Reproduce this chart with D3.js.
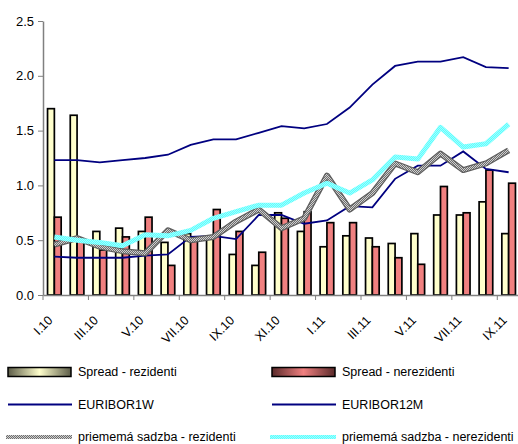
<!DOCTYPE html>
<html>
<head>
<meta charset="utf-8">
<script src="https://cdn.jsdelivr.net/npm/d3@7"></script>
<style>
  body { margin: 0; background: #fff; }
  svg { display: block; font-family: "Liberation Sans", Arial, sans-serif; }
</style>
</head>
<body>
<div id="chart"></div>
<script>
// months Jan 2010 - Sep 2011
const months = ["I.10","II.10","III.10","IV.10","V.10","VI.10","VII.10","VIII.10","IX.10","X.10","XI.10","XII.10",
                "I.11","II.11","III.11","IV.11","V.11","VI.11","VII.11","VIII.11","IX.11"];

const spreadRez    = [1.70,1.64,0.58,0.61,0.58,0.48,0.56,0.52,0.37,0.27,0.75,0.58,0.44,0.54,0.52,0.47,0.56,0.73,0.73,0.85,0.56];
const spreadNerez  = [0.71,0.50,0.41,0.53,0.71,0.27,0.50,0.78,0.58,0.39,0.70,0.76,0.66,0.66,0.44,0.34,0.28,0.99,0.75,1.14,1.02];
const euribor1w    = [0.35,0.34,0.34,0.34,0.36,0.37,0.53,0.54,0.51,0.73,0.73,0.65,0.68,0.81,0.80,1.06,1.18,1.18,1.31,1.15,1.12];
const euribor12m   = [1.23,1.23,1.21,1.23,1.25,1.28,1.37,1.42,1.42,1.48,1.54,1.52,1.56,1.71,1.92,2.09,2.13,2.13,2.17,2.08,2.07];
const sadzbaRez    = [0.46,0.52,0.44,0.40,0.38,0.59,0.50,0.53,0.67,0.78,0.61,0.70,1.09,0.78,0.93,1.20,1.12,1.29,1.14,1.20,1.32];
const sadzbaNerez  = [0.53,0.50,0.48,0.45,0.55,0.54,0.59,0.70,0.76,0.82,0.82,0.93,1.02,0.93,1.05,1.26,1.24,1.53,1.35,1.38,1.56];

const yTicks = [0, 0.5, 1.0, 1.5, 2.0, 2.5];

const width = 518, height = 444;
const svg = d3.select("#chart").append("svg")
    .attr("width", width)
    .attr("height", height);

const defs = svg.append("defs");

// checker patterns for the thick lines
function checker(id, c1, c2) {
  let p = defs.append("pattern")
      .attr("id", id)
      .attr("width", 2).attr("height", 2)
      .attr("patternUnits", "userSpaceOnUse");
  p.append("rect").attr("width", 2).attr("height", 2).attr("fill", c1);
  p.append("rect").attr("width", 1).attr("height", 1).attr("fill", c2);
  p.append("rect").attr("x", 1).attr("y", 1).attr("width", 1).attr("height", 1).attr("fill", c2);
}
checker("chkGrey", "#6e6e6e", "#cfcfcf");
checker("chkCyan", "#5cffff", "#a0ffff");

function barGradient(id, dark, light) {
  let g = defs.append("linearGradient").attr("id", id);
  g.append("stop").attr("offset", "0%").attr("stop-color", dark);
  g.append("stop").attr("offset", "50%").attr("stop-color", light);
  g.append("stop").attr("offset", "100%").attr("stop-color", dark);
}
barGradient("gradRez", "#5c5c48", "#ffffcc");
barGradient("gradNerez", "#5a2a2a", "#f08080");

const plotLeft = 43, plotRight = 520, plotTop = 21, plotBottom = 295;

const x = d3.scaleBand()
    .domain(months)
    .range([plotLeft, plotRight])
    .paddingInner(0.4)
    .paddingOuter(0.2);

const xSub = d3.scaleBand()
    .domain(["rez", "nerez"])
    .range([0, x.bandwidth()]);

const y = d3.scaleLinear()
    .domain([0, 2.5])
    .range([plotBottom, plotTop]);

const cx = (d) => x(d) + x.bandwidth() / 2;

// bars
const barColors = { rez: "#ffffcc", nerez: "#f08080" };
const barData = months.map((m, i) => ({ m: m, rez: spreadRez[i], nerez: spreadNerez[i] }));

const groups = svg.append("g").selectAll("g")
    .data(barData)
  .enter().append("g")
    .attr("transform", (d) => "translate(" + x(d.m) + ",0)");

groups.selectAll("rect")
    .data((d) => ["rez", "nerez"].map((k) => ({ k: k, v: d[k] })))
  .enter().append("rect")
    .attr("x", (d) => xSub(d.k))
    .attr("y", (d) => y(d.v))
    .attr("width", xSub.bandwidth())
    .attr("height", (d) => y(0) - y(d.v))
    .attr("fill", (d) => barColors[d.k])
    .attr("stroke", "#000")
    .attr("stroke-width", 1.7);

// lines
const line = d3.line()
    .x((d, i) => cx(months[i]))
    .y((d) => y(d));

svg.append("path").datum(euribor12m)
    .attr("d", line).attr("fill", "none")
    .attr("stroke", "#000080").attr("stroke-width", 1.8);

svg.append("path").datum(euribor1w)
    .attr("d", line).attr("fill", "none")
    .attr("stroke", "#000080").attr("stroke-width", 1.8);

svg.append("path").datum(sadzbaRez)
    .attr("d", line).attr("fill", "none")
    .attr("stroke", "#5e5e5e").attr("stroke-width", 6)
    .attr("stroke-linejoin", "round");
svg.append("path").datum(sadzbaRez)
    .attr("d", line).attr("fill", "none")
    .attr("stroke", "url(#chkGrey)").attr("stroke-width", 3.5)
    .attr("stroke-linejoin", "round");

svg.append("path").datum(sadzbaNerez)
    .attr("d", line).attr("fill", "none")
    .attr("stroke", "url(#chkCyan)").attr("stroke-width", 5)
    .attr("stroke-linejoin", "round");

// axes
const yAxis = svg.append("g")
    .attr("transform", "translate(" + plotLeft + ",0)")
    .call(d3.axisLeft(y).tickValues(yTicks).tickFormat(d3.format(".1f")).tickSize(5).tickSizeOuter(0));

const tickMonths = months.filter((m, i) => i % 2 == 0);

const xAxis = svg.append("g")
    .attr("transform", "translate(0," + plotBottom + ")")
    .call(d3.axisBottom(x).tickValues(tickMonths).tickSize(0).tickFormat(""));

// tick marks at category boundaries, every 2nd
xAxis.selectAll(".bnd")
    .data(tickMonths)
  .enter().append("line")
    .attr("x1", (d) => x(d) - x.step() * 0.2)
    .attr("x2", (d) => x(d) - x.step() * 0.2)
    .attr("y1", 0).attr("y2", 5)
    .attr("stroke", "#808080");

xAxis.selectAll(".lbl")
    .data(tickMonths)
  .enter().append("text")
    .attr("transform", (d) => "translate(" + (cx(d) - 4) + ",23) rotate(-45)")
    .attr("text-anchor", "end")
    .attr("dy", "0.35em")
    .attr("fill", "#000")
    .attr("font-size", 12.5)
    .text((d) => d);

svg.selectAll(".domain").attr("stroke", "#808080").attr("stroke-width", 1.5);
yAxis.selectAll(".tick line").attr("stroke", "#808080");
yAxis.selectAll(".tick text").attr("font-size", 13).attr("fill", "#000").attr("x", -9);

// legend
const legendItems = [
  { name: "Spread - rezidenti", type: "bar", fill: "url(#gradRez)", col: 0, row: 0 },
  { name: "Spread - nerezidenti", type: "bar", fill: "url(#gradNerez)", col: 1, row: 0 },
  { name: "EURIBOR1W", type: "line", stroke: "#000080", col: 0, row: 1 },
  { name: "EURIBOR12M", type: "line", stroke: "#000080", col: 1, row: 1 },
  { name: "priememá sadzba - rezidenti", type: "grey", col: 0, row: 2 },
  { name: "priememá sadzba - nerezidenti", type: "cyan", col: 1, row: 2 }
];

const legend = svg.append("g").selectAll("g")
    .data(legendItems)
  .enter().append("g")
    .attr("transform", (d) => "translate(" + (d.col == 0 ? 8 : 272) + "," + (372 + d.row * 32.5) + ")");

legend.each(function(d) {
  let g = d3.select(this);
  if (d.type == "bar") {
    g.append("rect").attr("x", 0).attr("y", -4.5).attr("width", 63).attr("height", 9)
      .attr("fill", d.fill).attr("stroke", "#000").attr("stroke-width", 1.5);
  } else if (d.type == "line") {
    g.append("line").attr("x1", 0).attr("x2", 64).attr("y1", 0).attr("y2", 0)
      .attr("stroke", d.stroke).attr("stroke-width", 1.8);
  } else if (d.type == "grey") {
    g.append("rect").attr("x", -2).attr("y", -2).attr("width", 66).attr("height", 4)
      .attr("fill", "url(#chkGrey)");
  } else {
    g.append("rect").attr("x", -2).attr("y", -2).attr("width", 66).attr("height", 4)
      .attr("fill", "url(#chkCyan)");
  }
  g.append("text")
    .attr("x", 70)
    .attr("dy", "0.35em")
    .attr("font-size", 12.5)
    .text(d.name);
});
</script>
</body>
</html>
